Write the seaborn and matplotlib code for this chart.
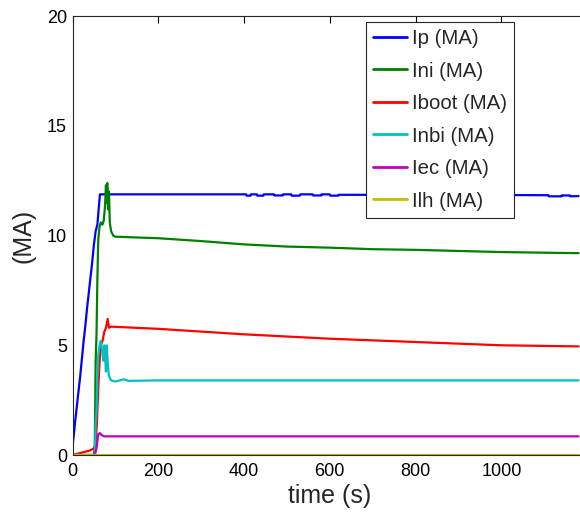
import matplotlib
matplotlib.use("Agg")
import matplotlib.pyplot as plt
import seaborn as sns
import pandas as pd

# ---- data ----
ip_t = [0, 3, 6, 10, 14, 18, 22, 26, 30, 34, 38, 42, 46, 50, 54, 58, 61, 64, 200, 405, 406, 415, 416, 430, 431,
        445, 446, 470, 471, 490, 491, 510, 511, 530, 531, 560, 561, 580, 581, 600, 601, 620, 621,
        1000, 1110, 1111, 1140, 1141, 1160, 1161, 1180]
ip_v = [0.4, 0.9, 1.5, 2.2, 2.9, 3.6, 4.4, 5.2, 5.9, 6.7, 7.4, 8.1, 8.8, 9.6, 10.2, 10.5, 11.2, 11.88, 11.88, 11.88,
        11.82, 11.82, 11.88, 11.88, 11.82, 11.82, 11.88, 11.88, 11.83, 11.83, 11.88, 11.88, 11.82, 11.82, 11.88,
        11.88, 11.83, 11.83, 11.88, 11.88, 11.82, 11.82, 11.86,
        11.85, 11.84, 11.79, 11.79, 11.83, 11.83, 11.79, 11.8]

ini_t = [0, 50, 52, 54, 56, 58, 60, 63, 66, 70, 73, 76, 78, 80, 81, 83, 85, 87, 90, 95, 100, 200, 300, 400, 500,
         600, 700, 800, 900, 1000, 1100, 1180]
ini_v = [0, 0, 0.5, 4.3, 5.5, 8.0, 9.8, 10.4, 10.6, 10.5, 10.7, 11.4, 12.3, 11.5, 12.4, 11.2, 12.0, 10.6, 10.2, 10.0,
         9.95, 9.88, 9.75, 9.6, 9.5, 9.45, 9.38, 9.35, 9.3, 9.25, 9.22, 9.2]

iboot_t = [0, 10, 20, 30, 40, 50, 54, 57, 60, 63, 66, 70, 74, 78, 82, 85, 90, 200, 400, 600, 800, 1000, 1180]
iboot_v = [0, 0.05, 0.1, 0.15, 0.2, 0.3, 0.5, 1.5, 3.0, 4.2, 5.0, 5.2, 5.6, 5.8, 6.2, 5.8, 5.85, 5.75, 5.5, 5.3,
           5.15, 5.0, 4.95]

inbi_t = [0, 52, 54, 56, 58, 60, 63, 66, 69, 72, 74, 76, 78, 80, 82, 85, 90, 100, 120, 130, 200, 400, 600, 800,
          1000, 1180]
inbi_v = [0, 0, 1.5, 2.0, 3.5, 4.5, 5.0, 5.2, 4.8, 4.3, 5.0, 4.5, 3.8, 5.0, 4.2, 3.6, 3.4, 3.35, 3.45, 3.38, 3.4,
          3.4, 3.4, 3.4, 3.4, 3.4]

iec_t = [0, 52, 56, 60, 64, 68, 75, 200, 600, 1180]
iec_v = [0, 0, 0.3, 0.95, 1.0, 0.9, 0.85, 0.85, 0.85, 0.85]

ilh_t = [0, 1180]
ilh_v = [0, 0]

series_names = ["Ip (MA)", "Ini (MA)", "Iboot (MA)", "Inbi (MA)", "Iec (MA)", "Ilh (MA)"]
series_t = [ip_t, ini_t, iboot_t, inbi_t, iec_t, ilh_t]
series_v = [ip_v, ini_v, iboot_v, inbi_v, iec_v, ilh_v]
colors = ["#0000FF", "#008000", "#FF0000", "#00BFBF", "#BF00BF", "#BFBF00"]

x_ticks = [0, 200, 400, 600, 800, 1000]
y_ticks = [0, 5, 10, 15, 20]

rows = []
for name, ts, vs in zip(series_names, series_t, series_v):
    for t, v in zip(ts, vs):
        rows.append({"time": t, "value": v, "series": name})
df = pd.DataFrame(rows)

# ---- styling ----
sns.set_style("white")
plt.rcParams["font.family"] = ["Liberation Sans", "DejaVu Sans"]

fig = plt.figure(figsize=(5.8, 5.13), dpi=100)
ax = fig.add_axes([72.5 / 580, 58 / 513, 514.6 / 580, 438.8 / 513])

sns.lineplot(data=df, x="time", y="value", hue="series", hue_order=series_names,
             palette=dict(zip(series_names, colors)), estimator=None, sort=False,
             linewidth=1.6, ax=ax)

ax.set_xlim(0, 1200)
ax.set_ylim(0, 20)
ax.set_xticks(x_ticks)
ax.set_yticks(y_ticks)
ax.tick_params(direction="in", length=5, width=0.8, top=True, right=True,
               labelsize=13, colors="black")
ax.tick_params(axis="x", pad=6)
ax.tick_params(axis="y", pad=4)
for s in ax.spines.values():
    s.set_color("#262626")
    s.set_linewidth(0.8)

ax.set_xlabel("time (s)", fontsize=18, labelpad=3)
ax.set_ylabel("(MA)", fontsize=18, labelpad=8)

handles, labels = ax.get_legend_handles_labels()
for h in handles:
    h.set_linewidth(2.0)
leg = ax.legend(handles, labels, loc="upper right",
                bbox_to_anchor=(514 / 580, 1 - 22 / 513), bbox_transform=fig.transFigure,
                borderaxespad=0, fontsize=14.7, frameon=True, fancybox=False,
                framealpha=1, edgecolor="#262626", handlelength=1.65,
                handletextpad=0.25, labelspacing=0.66, borderpad=0.35)
leg.get_frame().set_linewidth(0.8)

fig.savefig("out.png", dpi=100)
